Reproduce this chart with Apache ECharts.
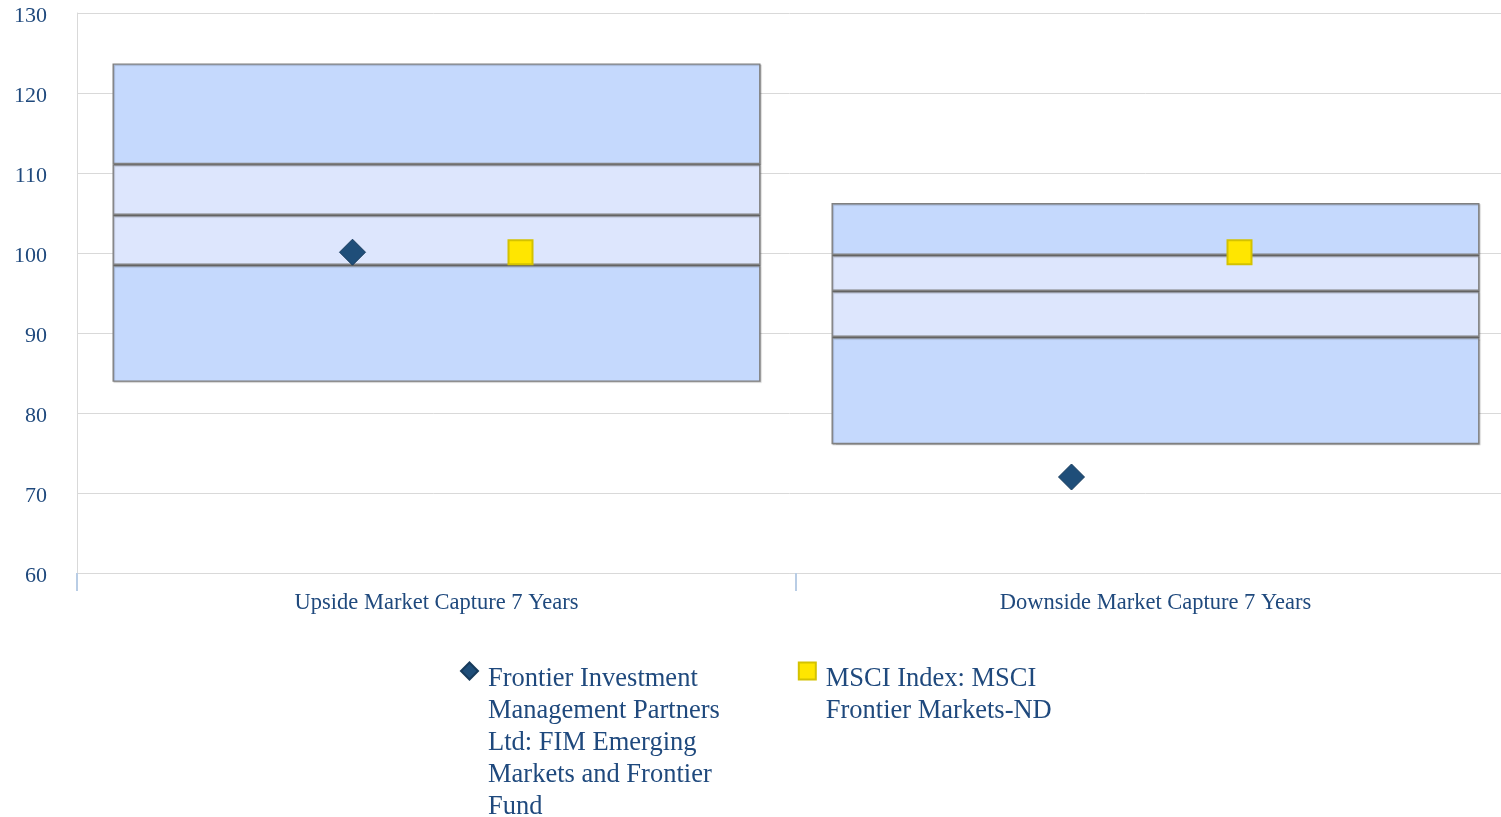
<!DOCTYPE html>
<html>
<head>
<meta charset="utf-8">
<script src="https://cdn.jsdelivr.net/npm/echarts@6/dist/echarts.min.js"></script>
<style>
  html, body { margin: 0; padding: 0; background: #fff; }
  #chart { width: 1501px; height: 817px; }
</style>
</head>
<body>
<div id="chart"></div>
<script>
// categories and values
var categories = ['Upside Market Capture 7 Years', 'Downside Market Capture 7 Years']
var boxBottom = [83.9, 76.1]
var lowerMid = [98.5, 89.5]
var median = [104.75, 95.25]
var upperMid = [111.1, 99.75]
var boxTop = [123.7, 106.25]
var fundName = 'Frontier Investment Management Partners Ltd: FIM Emerging Markets and Frontier Fund'
var fundValues = [100.1, 72.0]
var indexName = 'MSCI Index: MSCI Frontier Markets-ND'
var indexValues = [100.1, 100.1]
var yTicks = { min: 60, max: 130, interval: 10 }

// legend text as it wraps in the picture
var fundLines = ['Frontier Investment', 'Management Partners', 'Ltd: FIM Emerging', 'Markets and Frontier', 'Fund']
var indexLines = ['MSCI Index: MSCI', 'Frontier Markets-ND']

var font = 'Liberation Serif, Times New Roman, serif'
var textBlue = '#1f497d'
var outerFill = '#c5d9fd'
var innerFill = '#dde6fd'

function diff (a, b) {
  return a.map(function (v, i) { return +(v - b[i]).toFixed(2) })
}

function segment (name, data, fill) {
  return {
    name: name,
    type: 'bar',
    stack: 'box',
    barWidth: 648,
    silent: true,
    itemStyle: {
      color: fill,
      borderColor: '#808080',
      borderWidth: 1.4,
      shadowColor: 'rgba(0,0,0,0.2)',
      shadowOffsetX: 1,
      shadowOffsetY: 1,
      shadowBlur: 1
    },
    data: data
  }
}

// the text block is centred on the icon, so pad it above with blank lines
// to keep the icon beside the first line
function legendText (lines) {
  var lead = '{g| }\n'
  for (var i = 1; i < lines.length; i++) lead += '\n'
  return lead + lines.join('\n')
}
var legendLabels = {}
legendLabels[fundName] = legendText(fundLines)
legendLabels[indexName] = legendText(indexLines)

var chart = echarts.init(document.getElementById('chart'))
chart.setOption({
  animation: false,
  grid: { left: 77, top: 13, width: 1438, height: 560, outerBoundsMode: 'none' },
  xAxis: {
    type: 'category',
    data: categories,
    boundaryGap: true,
    axisLine: { lineStyle: { color: '#d9d9d9', width: 1 } },
    axisTick: { show: true, length: 18, interval: 0, lineStyle: { color: '#b9cde5', width: 2 } },
    axisLabel: { color: textBlue, fontFamily: font, fontSize: 22.5, margin: 19, interval: 0 }
  },
  yAxis: {
    type: 'value',
    min: yTicks.min,
    max: yTicks.max,
    interval: yTicks.interval,
    axisLine: { show: true, lineStyle: { color: '#d9d9d9', width: 1 } },
    axisTick: { show: false },
    splitLine: { lineStyle: { color: '#d9d9d9', width: 1 } },
    axisLabel: { color: textBlue, fontFamily: font, fontSize: 22, margin: 30, verticalAlign: 'top', lineHeight: 6 }
  },
  legend: {
    left: 455,
    top: 514,
    orient: 'horizontal',
    itemWidth: 17,
    itemHeight: 17,
    itemGap: 78,
    selectedMode: false,
    formatter: function (name) { return legendLabels[name] },
    textStyle: {
      color: textBlue,
      fontFamily: font,
      fontSize: 26.5,
      lineHeight: 32,
      padding: [0, 0, 0, 5],
      rich: { g: { fontSize: 10, lineHeight: 16 } }
    },
    data: [
      { name: fundName, icon: 'diamond' },
      { name: indexName, icon: 'rect' }
    ]
  },
  series: [
    {
      name: 'base',
      type: 'bar',
      stack: 'box',
      barWidth: 648,
      silent: true,
      itemStyle: { color: 'transparent' },
      data: boxBottom
    },
    segment('low', diff(lowerMid, boxBottom), outerFill),
    segment('midLow', diff(median, lowerMid), innerFill),
    segment('midHigh', diff(upperMid, median), innerFill),
    segment('high', diff(boxTop, upperMid), outerFill),
    {
      name: fundName,
      type: 'scatter',
      symbol: 'diamond',
      symbolSize: 26,
      symbolOffset: [-84, 0],
      z: 5,
      itemStyle: { color: '#1f4e79', borderColor: '#173b5c', borderWidth: 1, opacity: 1 },
      data: fundValues
    },
    {
      name: indexName,
      type: 'scatter',
      symbol: 'rect',
      symbolSize: 24,
      symbolOffset: [84, 0],
      z: 5,
      itemStyle: { color: '#ffe600', borderColor: '#d4c200', borderWidth: 2, opacity: 1 },
      data: indexValues
    }
  ]
})
</script>
</body>
</html>
